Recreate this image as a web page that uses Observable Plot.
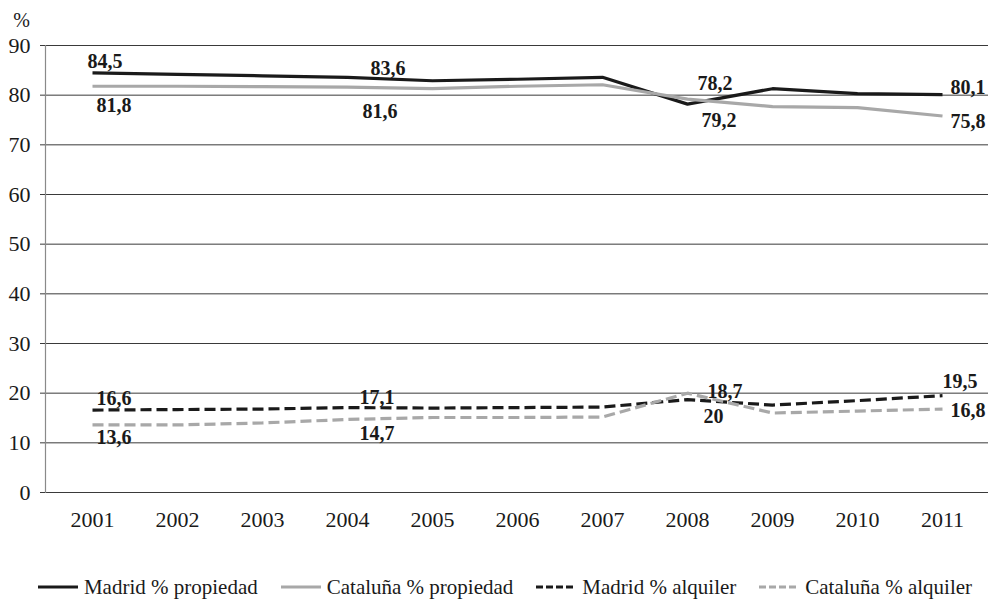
<!DOCTYPE html>
<html>
<head>
<meta charset="utf-8">
<script src="https://cdn.jsdelivr.net/npm/d3@7"></script>
<script src="https://cdn.jsdelivr.net/npm/@observablehq/plot@0.6"></script>
<style>
  body { margin: 0; background: #fff; font-family: "Liberation Serif", "Times New Roman", Times, "DejaVu Serif", serif; }
  #chart svg { display: block; }
  #chart svg text { font-family: "Liberation Serif", "Times New Roman", Times, "DejaVu Serif", serif; }
  .legend { display: flex; justify-content: center; align-items: center; gap: 23px;
            padding-top: 25px; padding-left: 14px; font-size: 21px; line-height: 24px; color: #1a1a1a; }
  .legend .item { display: flex; align-items: center; gap: 6px; white-space: nowrap; }
</style>
</head>
<body>
<div id="chart"></div>
<script>
// Vivienda: régimen de tenencia, 2001-2011
const years = [2001, 2002, 2003, 2004, 2005, 2006, 2007, 2008, 2009, 2010, 2011];
const madridPropiedad   = [84.5, 84.2, 83.9, 83.6, 82.9, 83.2, 83.6, 78.2, 81.3, 80.3, 80.1];
const catalunaPropiedad = [81.8, 81.8, 81.7, 81.6, 81.3, 81.8, 82.1, 79.2, 77.7, 77.5, 75.8];
const madridAlquiler    = [16.6, 16.7, 16.8, 17.1, 17.0, 17.1, 17.2, 18.7, 17.6, 18.5, 19.5];
const catalunaAlquiler  = [13.6, 13.6, 14.0, 14.7, 15.1, 15.1, 15.2, 20.0, 16.0, 16.4, 16.8];
const seriesNames = ["Madrid % propiedad", "Cataluña % propiedad", "Madrid % alquiler", "Cataluña % alquiler"];
const labeledYears = [2001, 2004, 2008, 2011];
const yTicks = [0, 10, 20, 30, 40, 50, 60, 70, 80, 90];

const SERIF = '"Liberation Serif", "Times New Roman", Times, "DejaVu Serif", serif';
const BLACK = "#1a1a1a", GRAY = "#a8a8a8";
const series = [
  {name: seriesNames[0], values: madridPropiedad,   stroke: BLACK, dash: null},
  {name: seriesNames[1], values: catalunaPropiedad, stroke: GRAY,  dash: null},
  {name: seriesNames[2], values: madridAlquiler,    stroke: BLACK, dash: "11,5"},
  {name: seriesNames[3], values: catalunaAlquiler,  stroke: GRAY,  dash: "11,5"}
];

// label nudges [dx, dy] per series, one per labeled year
const nudges = [
  [[-5, -5], [23, -2], [10, -14], [8, -1]],
  [[4, 26], [15, 31], [14, 28], [8, 12]],
  [[4, -5], [12, -4], [20, -2], [0, -8]],
  [[4, 19], [12, 21], [16, 30], [8, 8]]
];

const fmt = v => String(v).replace(".", ",");

const lineMarks = series.map(s =>
  Plot.line(years.map((y, i) => ({year: y, value: s.values[i]})), {
    x: "year", y: "value", stroke: s.stroke, strokeWidth: 3.2,
    strokeDasharray: s.dash, strokeLinejoin: "miter", strokeLinecap: "butt"
  })
);

const labelMarks = [];
series.forEach((s, si) => {
  labeledYears.forEach((yr, li) => {
    const v = s.values[years.indexOf(yr)];
    const [dx, dy] = nudges[si][li];
    labelMarks.push(Plot.text([{year: yr, value: v, text: fmt(v)}], {
      x: "year", y: "value", text: "text", dx, dy,
      textAnchor: "start", lineAnchor: "bottom",
      fontWeight: "bold", fontSize: 20, fill: BLACK
    }));
  });
});

const chart = Plot.plot({
  width: 996,
  height: 550,
  marginLeft: 45,
  marginRight: 8,
  marginTop: 45,
  marginBottom: 58,
  style: {fontFamily: SERIF, fontSize: "22px", color: "#1a1a1a", background: "#fff"},
  x: {type: "point", domain: years, padding: 0.5},
  y: {domain: [0, 90]},
  marks: [
    Plot.gridY(yTicks, {stroke: "#3a3a3a", strokeOpacity: 1, strokeWidth: 1}),
    Plot.frame({anchor: "left", stroke: "#8a8a8a", strokeWidth: 1.2}),
    Plot.axisY(yTicks, {tickSize: 5, tickPadding: 10, label: null, stroke: "#3a3a3a"}),
    Plot.axisX({tickSize: 0, tickPadding: 19, label: null, tickFormat: d => String(d)}),
    Plot.text(["%"], {frameAnchor: "top-left", dx: -24, dy: -33, textAnchor: "middle", fontSize: 20}),
    ...lineMarks,
    ...labelMarks
  ]
});
document.getElementById("chart").append(chart);

// legend
const legend = document.createElement("div");
legend.className = "legend";
series.forEach(s => {
  const item = document.createElement("div");
  item.className = "item";
  item.innerHTML =
    `<svg width="40" height="6"><line x1="0" x2="40" y1="3" y2="3" stroke="${s.stroke}" stroke-width="3"` +
    (s.dash ? ` stroke-dasharray="7,3"` : "") + `/></svg><span>${s.name}</span>`;
  legend.append(item);
});
document.body.append(legend);
</script>
</body>
</html>
